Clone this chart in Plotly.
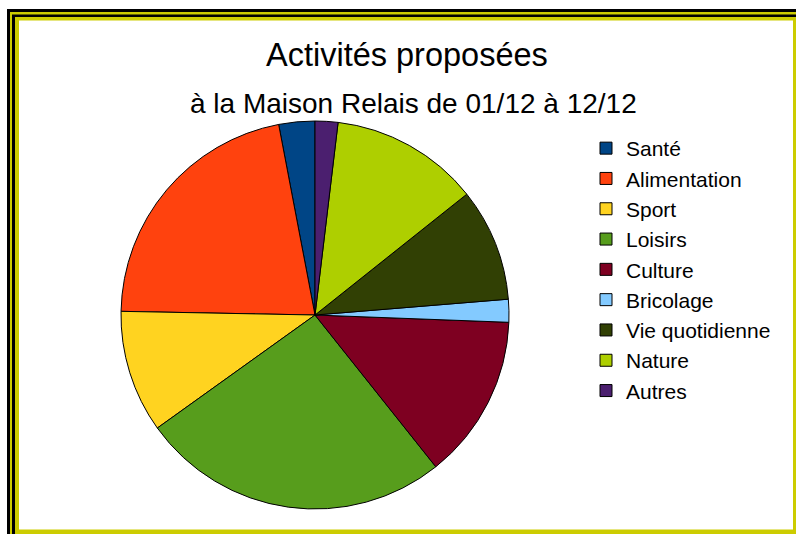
import plotly.graph_objects as go

W, H = 796, 534

categories = ["Santé", "Alimentation", "Sport", "Loisirs", "Culture",
              "Bricolage", "Vie quotidienne", "Nature", "Autres"]
values = [3.0, 21.7, 10.2, 25.8, 13.7, 1.9, 9.4, 12.4, 1.9]
colors = ["#004586", "#ff420e", "#ffd320", "#579d1c", "#7e0021",
          "#83caff", "#314004", "#aecf00", "#4b1f6f"]

title_text = "Activités proposées"
subtitle_text = "à la Maison Relais de 01/12 à 12/12"

def px(x):
    return x / W

def py(y):
    return 1 - y / H

fig = go.Figure()
fig.add_trace(go.Pie(
    labels=categories,
    values=values,
    sort=False,
    direction="counterclockwise",
    rotation=-10.8,
    textinfo="none",
    hoverinfo="label+percent",
    marker=dict(colors=colors, line=dict(color="#000000", width=1)),
    domain=dict(x=[px(121), px(509)], y=[py(509), py(121)]),
))

# frame made of layered filled rectangles
frame = [
    (7, 9, "#000000"),
    (10, 12, "#cccc00"),
    (12, 14.5, "#000000"),
    (15, 17, "#cccc00"),
]
shapes = []
for x0, y0, c in frame:
    shapes.append(dict(type="rect", xref="paper", yref="paper",
                       x0=px(x0), y0=py(y0), x1=px(900), y1=py(700),
                       fillcolor=c, line=dict(width=0), layer="below"))
shapes.append(dict(type="rect", xref="paper", yref="paper",
                   x0=px(19), y0=py(20.5), x1=px(793), y1=py(529.5),
                   fillcolor="#ffffff", line=dict(width=0), layer="below"))

annotations = [
    dict(text=title_text, x=px(406.5), y=py(55), xref="paper", yref="paper",
         xanchor="center", yanchor="middle", showarrow=False,
         font=dict(family="Liberation Sans, Arial, sans-serif", size=32.5, color="#000000")),
    dict(text=subtitle_text, x=px(413.5), y=py(103), xref="paper", yref="paper",
         xanchor="center", yanchor="middle", showarrow=False,
         font=dict(family="Liberation Sans, Arial, sans-serif", size=28, color="#000000")),
]

fig.update_layout(
    width=W, height=H,
    margin=dict(l=0, r=0, t=0, b=0),
    paper_bgcolor="#ffffff",
    plot_bgcolor="#ffffff",
    showlegend=True,
    legend=dict(x=px(586), y=py(128), xanchor="left", yanchor="top",
                font=dict(family="Liberation Sans, Arial, sans-serif", size=21, color="#000000"),
                bgcolor="rgba(0,0,0,0)", traceorder="normal"),
    shapes=shapes,
    annotations=annotations,
)

fig.write_html("out.html",
               config={"displayModeBar": False},
               post_script="document.body.style.margin='0';document.body.style.overflow='hidden';")
